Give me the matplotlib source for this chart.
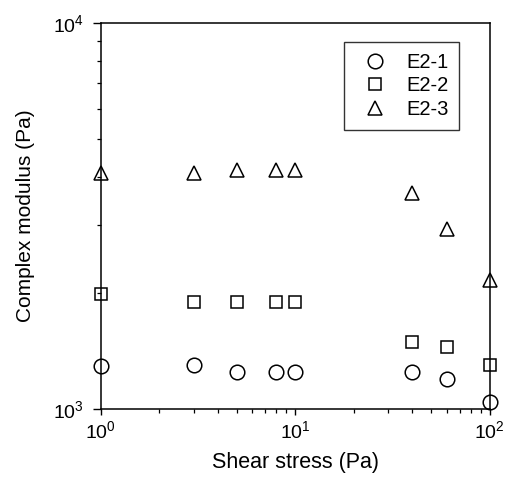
import matplotlib
matplotlib.use("Agg")
import matplotlib.pyplot as plt
from matplotlib.ticker import LogLocator, NullFormatter

plt.rcParams['font.family'] = ['Liberation Sans', 'DejaVu Sans']

# Shear stress (Pa) and complex modulus (Pa) for the three samples
shear_stress = [1, 3, 5, 8, 10, 40, 60, 100]
e2_1 = [1297, 1300, 1247, 1247, 1247, 1251, 1198, 1046]
e2_2 = [1989, 1894, 1894, 1894, 1890, 1497, 1447, 1302]
e2_3 = [4102, 4102, 4168, 4168, 4168, 3627, 2937, 2163]
series_labels = ["E2-1", "E2-2", "E2-3"]

fig = plt.figure(figsize=(5.07, 4.82), dpi=100)
ax = fig.add_axes([0.199, 0.151, 0.767, 0.801])

styles = [("o", 10.5), ("s", 9), ("^", 10)]
for vals, label, (m, ms) in zip([e2_1, e2_2, e2_3], series_labels, styles):
    ax.plot(shear_stress, vals, linestyle="none", marker=m, markersize=ms,
            markerfacecolor="none", markeredgecolor="black",
            markeredgewidth=1.1, label=label, clip_on=False, zorder=3)

ax.set_xscale("log")
ax.set_yscale("log")
ax.set_xlim(1, 100)
ax.set_ylim(1000, 10000)

ax.xaxis.set_major_locator(LogLocator(base=10, numticks=5))
ax.yaxis.set_major_locator(LogLocator(base=10, numticks=5))
ax.xaxis.set_minor_locator(LogLocator(base=10, subs=range(2, 10), numticks=20))
ax.yaxis.set_minor_locator(LogLocator(base=10, subs=range(2, 10), numticks=20))
ax.xaxis.set_minor_formatter(NullFormatter())
ax.yaxis.set_minor_formatter(NullFormatter())

ax.tick_params(which="major", direction="out", length=5, width=1,
               labelsize=14, top=False, right=False)
ax.tick_params(axis="x", which="major", pad=4, length=4)
ax.tick_params(axis="y", which="major", pad=6, length=6)
ax.tick_params(which="minor", direction="out", length=3, width=0.9,
               top=False, right=False)

for sp in ax.spines.values():
    sp.set_linewidth(1.1)

ax.set_xlabel("Shear stress (Pa)", fontsize=15.5, labelpad=7)
ax.set_ylabel("Complex modulus (Pa)", fontsize=15, labelpad=13)

leg = ax.legend(loc="upper right", bbox_to_anchor=(0.922, 0.952), fontsize=14.5,
                frameon=True, fancybox=False, edgecolor="black",
                handlelength=2.0, handletextpad=0.55, borderpad=0.55,
                labelspacing=0.22, borderaxespad=0)
leg.get_frame().set_linewidth(1.0)

fig.savefig("out.png", dpi=100)
